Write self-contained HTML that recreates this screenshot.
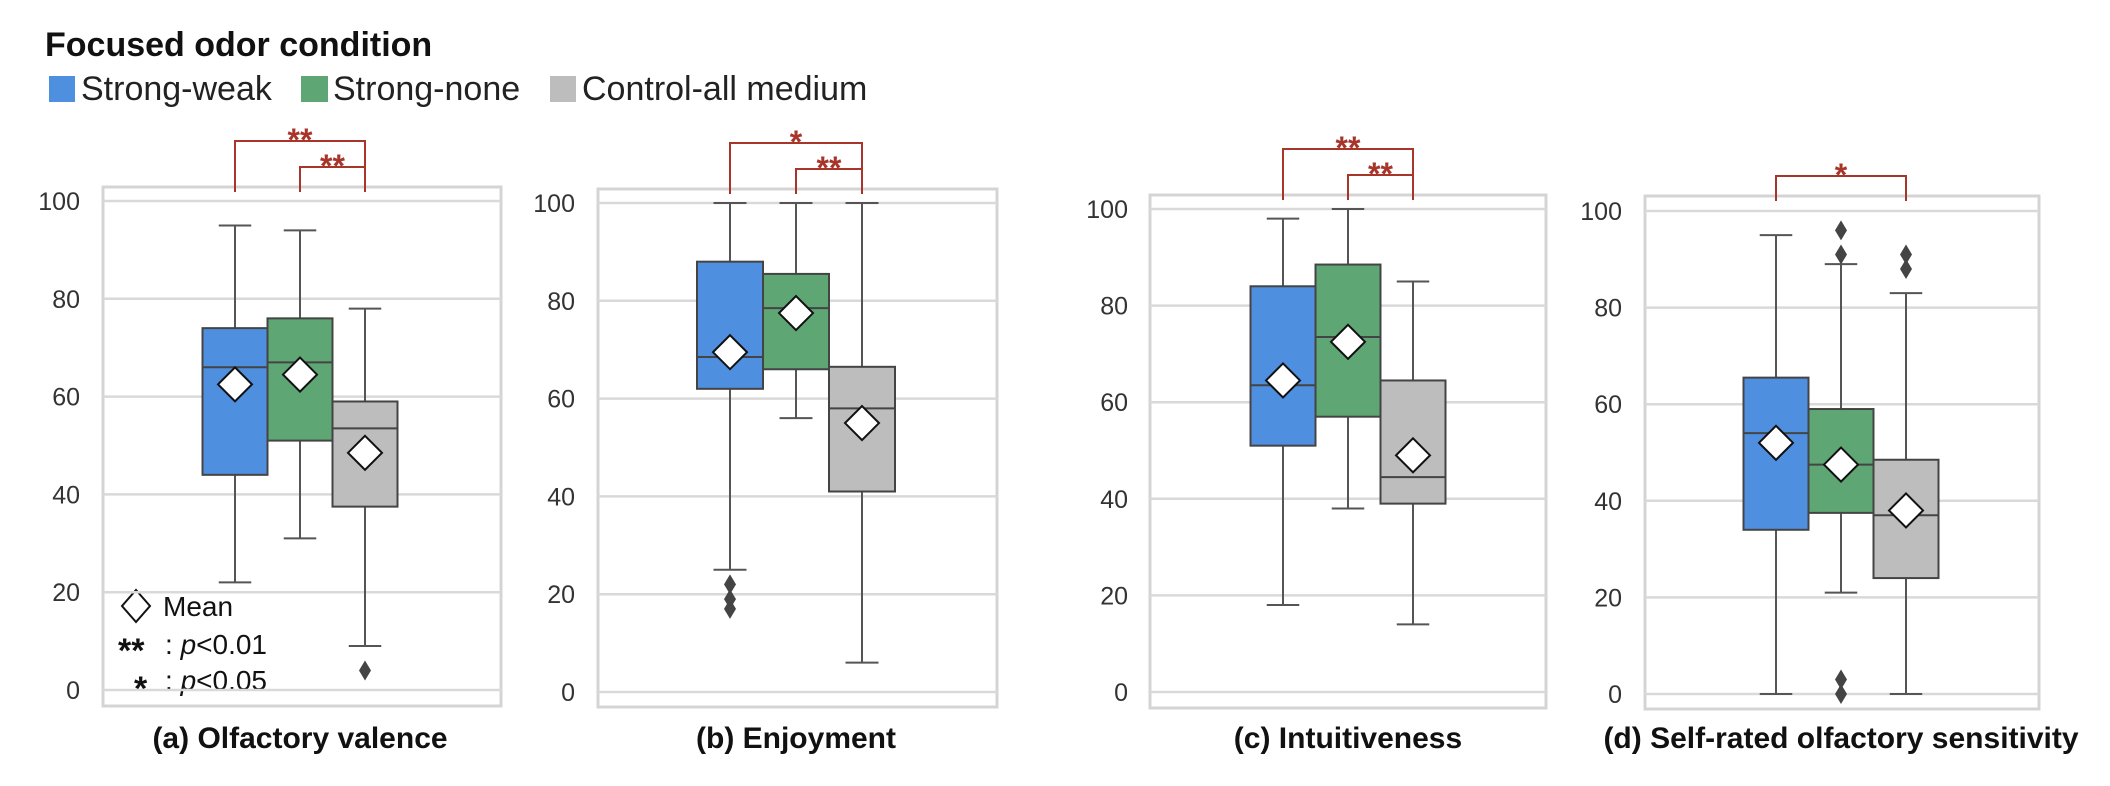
<!DOCTYPE html>
<html><head><meta charset="utf-8">
<style>
body{margin:0;background:#fff;}
svg{display:block;font-family:"Liberation Sans",Arial,sans-serif;}
</style></head>
<body>
<svg id="chart" width="2110" height="786" viewBox="0 0 2110 786">
<text x="45" y="56" font-size="34" font-weight="bold" fill="#111">Focused odor condition</text>
<g>
<rect x="49" y="76" width="26" height="26" fill="#4f8fdf"/>
<text x="81" y="100" font-size="34" fill="#222">Strong-weak</text>
<rect x="301" y="76" width="27" height="26" fill="#5ea673"/>
<text x="333" y="100" font-size="34" fill="#222">Strong-none</text>
<rect x="550" y="76" width="26" height="26" fill="#bdbdbd"/>
<text x="582" y="100" font-size="34" fill="#222">Control-all medium</text>
</g>
<g>
<polygon points="136,590 150,606 136,622 122,606" fill="#fff" stroke="#111" stroke-width="2"/>
<text x="163" y="616" font-size="28" fill="#111">Mean</text>
<text x="118" y="662" font-size="34" font-weight="bold" fill="#111">**</text>
<text x="165" y="654" font-size="28" fill="#111">: <tspan font-style="italic">p</tspan>&lt;0.01</text>
<text x="134" y="700" font-size="34" font-weight="bold" fill="#111">*</text>
<text x="165" y="690" font-size="28" fill="#111">: <tspan font-style="italic">p</tspan>&lt;0.05</text>
</g>
</svg>
<script>
// data per panel: [whiskerHigh, Q3, median, Q1, whiskerLow, mean]
const panelTitles = ["(a) Olfactory valence","(b) Enjoyment","(c) Intuitiveness","(d) Self-rated olfactory sensitivity"];
const yTicks = [0,20,40,60,80,100];
const groupNames = ["strong-weak","strong-none","control"];
const statsA = [[95,74,66,44,22,62.5],[94,76,67,51,31,64.5],[78,59,53.5,37.5,9,48.5]];
const statsB = [[100,88,68.5,62,25,69.5],[100,85.5,78.5,66,56,77.5],[100,66.5,58,41,6,55]];
const statsC = [[98,84,63.5,51,18,64.5],[100,88.5,73.5,57,38,72.5],[85,64.5,44.5,39,14,49]];
const statsD = [[95,65.5,54,34,0,52],[89,59,47.5,37.5,21,47.5],[83,48.5,37,24,0,38]];
const outliersA = [[],[],[4]];
const outliersB = [[22,19,17],[],[]];
const outliersC = [[],[],[]];
const outliersD = [[],[96,91,3,0],[91,88]];
// brackets: [fromGroup, toGroup, label, level(0=outer,1=inner)]
const bracketsA = [[0,2,"**",0],[1,2,"**",1]];
const bracketsB = [[0,2,"*",0],[1,2,"**",1]];
const bracketsC = [[0,2,"**",0],[1,2,"**",1]];
const bracketsD = [[0,2,"*",1]];

const colors = ["#4f8fdf","#5ea673","#bdbdbd"];
const layout = [
 {fx:103,fw:398,ft:187,fb:706,y0:690,y100:201,lab:80,c0:235,bw:65,ttlY:748},
 {fx:598,fw:399,ft:189,fb:707,y0:692,y100:203,lab:575,c0:730,bw:66,ttlY:748},
 {fx:1150,fw:396,ft:195,fb:708,y0:692,y100:209,lab:1128,c0:1283,bw:65,ttlY:748},
 {fx:1645,fw:394,ft:196,fb:709,y0:694,y100:211,lab:1622,c0:1776,bw:65,ttlY:748}
];
const allStats=[statsA,statsB,statsC,statsD];
const allOut=[outliersA,outliersB,outliersC,outliersD];
const allBr=[bracketsA,bracketsB,bracketsC,bracketsD];
const NS="http://www.w3.org/2000/svg";
const svg=document.getElementById('chart');
function mk(tag,attrs,parent){const e=document.createElementNS(NS,tag);for(const k in attrs)e.setAttribute(k,attrs[k]);parent.appendChild(e);return e;}
layout.forEach((L,p)=>{
  const g=mk('g',{},svg);
  
  
  const y=v=>L.y0-(L.y0-L.y100)*v/100;
  const xc=i=>L.c0+i*L.bw;
  const fr=mk('rect',{x:L.fx,y:L.ft,width:L.fw,height:L.fb-L.ft,fill:'none',stroke:'#d4d4d4','stroke-width':3},g);
  
  
  yTicks.forEach(t=>{
    const gl=mk('line',{x1:L.fx,x2:L.fx+L.fw,y1:y(t),y2:y(t),stroke:'#d9d9d9','stroke-width':2.5},g);
    
    
    const tl=mk('text',{x:L.lab,y:y(t)+9,'text-anchor':'end','font-size':25,fill:'#333'},g);
    tl.textContent=t;
    
    
  });
  allStats[p].forEach((s,i)=>{
    const bg=mk('g',{},g);
    
    
    const cx=xc(i),hw=L.bw/2,cw=L.bw/4;
    mk('line',{x1:cx,x2:cx,y1:y(s[0]),y2:y(s[1]),stroke:'#555','stroke-width':2},bg);
    mk('line',{x1:cx,x2:cx,y1:y(s[3]),y2:y(s[4]),stroke:'#555','stroke-width':2},bg);
    mk('line',{x1:cx-cw,x2:cx+cw,y1:y(s[0]),y2:y(s[0]),stroke:'#555','stroke-width':2},bg);
    mk('line',{x1:cx-cw,x2:cx+cw,y1:y(s[4]),y2:y(s[4]),stroke:'#555','stroke-width':2},bg);
    mk('rect',{x:cx-hw,y:y(s[1]),width:L.bw,height:y(s[3])-y(s[1]),fill:colors[i],stroke:'#444','stroke-width':2},bg);
    mk('line',{x1:cx-hw,x2:cx+hw,y1:y(s[2]),y2:y(s[2]),stroke:'#444','stroke-width':2},bg);
    const my=y(s[5]);
    const md=mk('polygon',{points:`${cx},${my-17} ${cx+17},${my} ${cx},${my+17} ${cx-17},${my}`,fill:'#fff',stroke:'#111','stroke-width':2},bg);
    
    
    allOut[p][i].forEach(o=>{
      const oy=y(o);
      const om=mk('polygon',{points:`${cx},${oy-10} ${cx+6},${oy} ${cx},${oy+10} ${cx-6},${oy}`,fill:'#444'},bg);
      
      
    });
  });
  allBr[p].forEach(b=>{
    const top=(b[3]===0?L.ft-46:L.ft-20), bot=L.ft+5;
    const x1=xc(b[0]),x2=xc(b[1]);
    const br=mk('polyline',{points:`${x1},${bot} ${x1},${top} ${x2},${top} ${x2},${bot}`,fill:'none',stroke:'#a8352a','stroke-width':2},g);
    
    
    const st=mk('text',{x:(x1+x2)/2,y:top+10,'text-anchor':'middle','font-size':32,'font-weight':'bold',fill:'#a8352a'},g);
    st.textContent=b[2];
    
    
  });
  const tt=mk('text',{x:L.c0+L.bw,y:L.ttlY,'text-anchor':'middle','font-size':30,'font-weight':'bold',fill:'#111'},g);
  tt.textContent=panelTitles[p];
  
  
});
</script>
</body></html>
